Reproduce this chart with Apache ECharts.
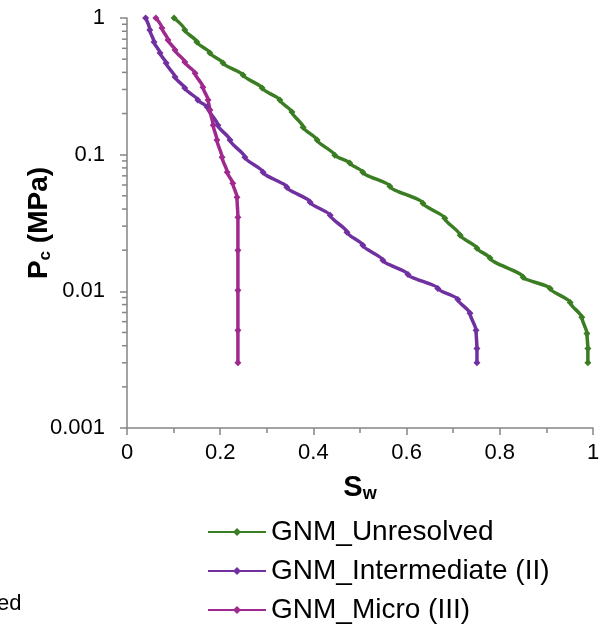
<!DOCTYPE html>
<html>
<head>
<meta charset="utf-8">
<script src="https://cdn.jsdelivr.net/npm/echarts@6/dist/echarts.min.js"></script>
<style>
  html, body { margin: 0; padding: 0; background: #fff; }
  #chart { width: 616px; height: 626px; }
</style>
</head>
<body>
<div id="chart"></div>
<script>
// Capillary pressure curves, Pc (MPa) versus water saturation Sw
const seriesNames = ['GNM_Unresolved', 'GNM_Intermediate (II)', 'GNM_Micro (III)'];

const unresolvedSw = [0.101, 0.124, 0.150, 0.178, 0.206, 0.249, 0.290, 0.328, 0.354, 0.378, 0.408, 0.446, 0.478, 0.506, 0.564, 0.635, 0.682, 0.715, 0.751, 0.779, 0.850, 0.908, 0.951, 0.976, 0.987, 0.989, 0.989];
const unresolvedPc = [1.0, 0.817, 0.667, 0.554, 0.468, 0.382, 0.307, 0.251, 0.205, 0.159, 0.128, 0.099, 0.087, 0.0744, 0.0588, 0.0441, 0.0343, 0.0257, 0.0207, 0.0175, 0.0127, 0.0105, 0.0083, 0.00645, 0.00492, 0.00382, 0.003];

const intermediateSw = [0.040, 0.049, 0.058, 0.071, 0.084, 0.103, 0.124, 0.152, 0.172, 0.195, 0.221, 0.253, 0.292, 0.343, 0.393, 0.436, 0.472, 0.506, 0.549, 0.603, 0.667, 0.710, 0.736, 0.749, 0.751, 0.751];
const intermediatePc = [1.0, 0.817, 0.667, 0.554, 0.468, 0.370, 0.307, 0.251, 0.223, 0.164, 0.128, 0.0959, 0.0744, 0.0578, 0.0449, 0.0360, 0.0271, 0.0217, 0.0169, 0.0133, 0.0105, 0.00873, 0.0069, 0.00518, 0.00382, 0.003];

const microSw = [0.062, 0.075, 0.088, 0.103, 0.124, 0.146, 0.163, 0.174, 0.178, 0.185, 0.193, 0.204, 0.215, 0.227, 0.236, 0.238, 0.238, 0.238, 0.238, 0.238];
const microPc = [1.0, 0.845, 0.690, 0.583, 0.476, 0.395, 0.312, 0.251, 0.212, 0.164, 0.128, 0.0959, 0.0744, 0.0618, 0.0489, 0.0348, 0.020, 0.0102, 0.0052, 0.003];

const yTickLabels = ['0.001', '0.01', '0.1', '1'];
const yMinorValues = [0.002, 0.003, 0.004, 0.005, 0.006, 0.007, 0.008, 0.009,
                      0.02, 0.03, 0.04, 0.05, 0.06, 0.07, 0.08, 0.09,
                      0.2, 0.3, 0.4, 0.5, 0.6, 0.7, 0.8, 0.9];
const sideNote = 'ed';

const colors = ['#3a7d22', '#7030a0', '#a0298f'];
const axisGrey = '#858585';
const fontFamily = '"Liberation Sans", Arial, sans-serif';

function pairs(xs, ys) { return xs.map((x, i) => [x, ys[i]]); }

function curve(name, xs, ys, color) {
  return {
    name: name,
    type: 'line',
    data: pairs(xs, ys),
    showAllSymbol: true,
    symbol: 'diamond',
    symbolSize: 7,
    smooth: 0.25,
    smoothMonotone: 'y',
    lineStyle: { color: color, width: 3.5 },
    itemStyle: { color: color },
    emphasis: { disabled: true },
    animation: false,
    z: 3
  };
}

const chart = echarts.init(document.getElementById('chart'), null, { renderer: 'canvas' });

chart.setOption({
  animation: false,
  grid: { left: 127, top: 18, right: 23, bottom: 198, containLabel: false, outerBoundsMode: 'none' },
  xAxis: {
    type: 'value',
    min: 0, max: 1, interval: 0.2,
    name: 'S{sub|w}',
    nameLocation: 'middle',
    nameGap: 45,
    nameMoveOverlap: false,
    nameTextStyle: {
      fontFamily: fontFamily, fontWeight: 'bold', fontSize: 29, color: '#000',
      rich: { sub: { fontFamily: fontFamily, fontWeight: 'bold', fontSize: 18, color: '#000', verticalAlign: 'bottom', padding: [12, 0, 0, 0] } }
    },
    axisLine: { show: true, lineStyle: { color: axisGrey, width: 1.5 } },
    axisTick: { show: true, length: 7, lineStyle: { color: axisGrey, width: 1.5 } },
    minorTick: { show: true, splitNumber: 2, length: 5, lineStyle: { color: axisGrey, width: 1.5 } },
    splitLine: { show: false },
    axisLabel: { margin: 14, fontFamily: fontFamily, fontSize: 22, color: '#000' }
  },
  yAxis: {
    type: 'log',
    logBase: 10,
    min: 0.001, max: 1,
    name: '{b|P}{s|c}{b| (MPa)}',
    nameLocation: 'middle',
    nameRotate: 90,
    nameGap: 73,
    nameMoveOverlap: false,
    nameTextStyle: {
      rich: {
        b: { fontFamily: fontFamily, fontWeight: 'bold', fontSize: 28, color: '#000' },
        s: { fontFamily: fontFamily, fontWeight: 'bold', fontSize: 17, color: '#000', padding: [12, 0, 0, 0] }
      }
    },
    axisLine: { show: true, lineStyle: { color: axisGrey, width: 1.5 } },
    axisTick: { show: true, length: 7, lineStyle: { color: axisGrey, width: 1.5 } },
    splitLine: { show: false },
    axisLabel: {
      margin: 22, fontFamily: fontFamily, fontSize: 22, color: '#000',
      formatter: function (v) {
        const k = Math.round(Math.log10(v)) + 3;
        return yTickLabels[k] !== undefined ? yTickLabels[k] : '';
      }
    }
  },
  legend: {
    data: seriesNames,
    orient: 'vertical',
    left: 202,
    top: 513,
    height: 200,
    itemGap: 11,
    itemWidth: 58,
    itemHeight: 10,
    textStyle: { fontFamily: fontFamily, fontSize: 28, color: '#000' },
    selectedMode: false
  },
  graphic: [{
    type: 'text',
    left: -3,
    top: 593,
    style: { text: sideNote, font: '22px ' + fontFamily, fill: '#000' }
  }],
  series: [
    curve(seriesNames[0], unresolvedSw, unresolvedPc, colors[0]),
    curve(seriesNames[1], intermediateSw, intermediatePc, colors[1]),
    curve(seriesNames[2], microSw, microPc, colors[2]),
    {
      // minor log ticks (2..9 of each decade) on the Pc axis
      name: 'pcMinorTicks',
      type: 'custom',
      clip: false,
      silent: true,
      animation: false,
      data: yMinorValues.map(v => [0, v]),
      renderItem: function (params, api) {
        const p = api.coord([0, api.value(1)]);
        return {
          type: 'line',
          shape: { x1: p[0] - 5, y1: p[1], x2: p[0], y2: p[1] },
          style: { stroke: axisGrey, lineWidth: 1.5 }
        };
      },
      z: 1
    }
  ]
});
</script>
</body>
</html>
